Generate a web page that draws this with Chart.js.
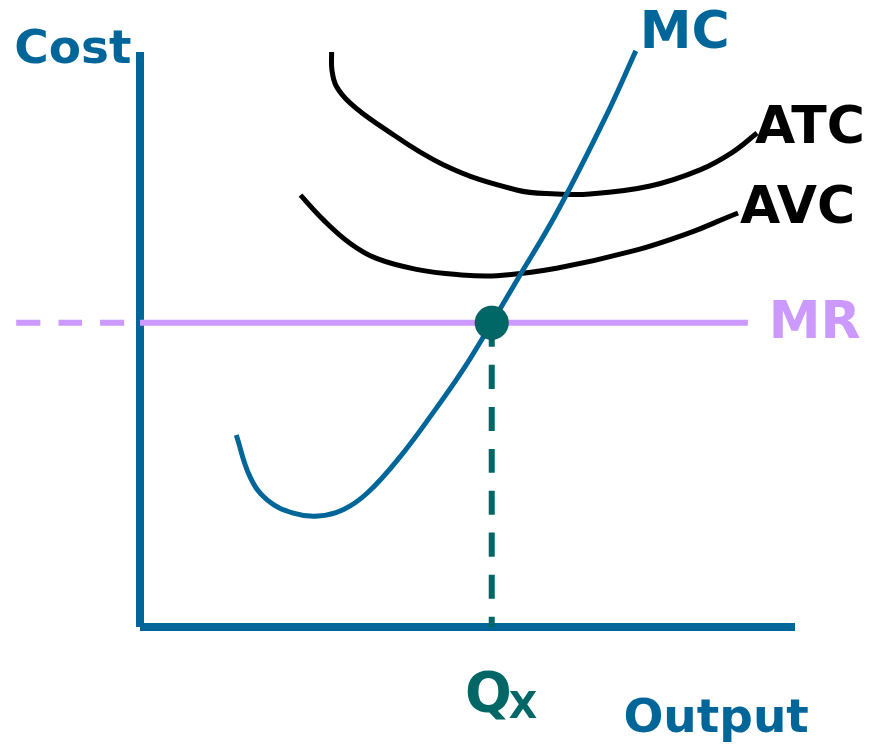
<!DOCTYPE html>
<html>
<head>
<meta charset="utf-8">
<script src="https://cdn.jsdelivr.net/npm/chart.js@4"></script>
<style>
  html, body { margin: 0; padding: 0; background: #fff; }
  canvas { display: block; }
</style>
</head>
<body>
<canvas id="chart" width="884" height="744"></canvas>
<script>
// Profit maximisation diagram (MC = MR) - Chart.js scatter with lines
// Units: Output 0..100 along the axis, Cost 0..100 up the axis

const mcOutput  = [14.7, 16.8, 19.4, 23.4, 27.2, 31.0, 34.7, 39.7, 44.7, 49.3, 53.7, 57.6, 63.6, 71.0, 75.7];
const mcCost    = [33.4, 26.1, 22.1, 19.8, 19.3, 20.4, 23.3, 29.6, 37.2, 44.7, 52.9, 60.4, 72.0, 88.5, 100.2];

const atcOutput = [29.25, 29.3, 30.0, 32.1, 36.1, 46.3, 57.5, 63.6, 68.7, 77.9, 85.5, 90.5, 94.2];
const atcCost   = [100.0, 96.9, 94.0, 91.1, 87.6, 80.4, 76.0, 75.3, 75.3, 76.7, 79.5, 82.6, 85.9];

const avcOutput = [24.5, 28.0, 32.1, 36.1, 42.2, 48.4, 54.5, 63.6, 75.3, 84.5, 88.1, 91.3];
const avcCost   = [75.1, 70.8, 66.7, 64.1, 62.2, 61.3, 61.1, 62.4, 65.4, 68.8, 70.5, 72.0];

const mrPrice = 52.9;        // MR level
const mrEnd = 92.8;          // where the solid MR line stops
const mrDashed = [-18.9, -2.4]; // dashed extension left of the cost axis
const qx = 53.7;             // profit maximising output (MC = MR)
const axisMax = 100;

const pts = (xs, ys) => xs.map((x, i) => ({ x: x, y: ys[i] }));

const BLUE = '#006699', TEAL = '#006666', LILAC = '#cc99ff';

const textLabels = {
    id: 'textLabels',
    afterDatasetsDraw(chart) {
        const c = chart.ctx, sx = chart.scales.x, sy = chart.scales.y;
        const put = (txt, x, y, size, color) => {
            c.font = 'bold ' + size + 'px "DejaVu Sans"';
            c.fillStyle = color;
            c.textAlign = 'left';
            c.textBaseline = 'alphabetic';
            c.fillText(txt, sx.getPixelForValue(x), sy.getPixelForValue(y));
            return c.measureText(txt).width;
        };
        c.save();
        put('Cost', -19.2, 98.1, 47, BLUE);
        put('MC', 76.3, 100.7, 52, BLUE);
        put('ATC', 93.9, 84.2, 52, '#000');
        put('AVC', 91.6, 70.3, 52, '#000');
        put('MR', 96.0, 50.3, 52, LILAC);
        const qw = put('Q', 49.6, -14.6, 55, TEAL);
        c.font = 'bold 37px "DejaVu Sans"';
        c.fillText('X', sx.getPixelForValue(49.6) + qw - 3, sy.getPixelForValue(-15.8));
        put('Output', 73.8, -18.26, 47, BLUE);
        c.restore();
    }
};

function line(data, color, width, order, dash) {
    return {
        data: data, showLine: true, borderColor: color, borderWidth: width,
        borderDash: dash || [], pointRadius: 0, tension: 0.4, fill: false,
        borderCapStyle: 'butt', order: order
    };
}

new Chart(document.getElementById('chart').getContext('2d'), {
    type: 'scatter',
    data: { datasets: [
        { data: [{ x: qx, y: mrPrice }], backgroundColor: TEAL, pointRadius: 17, order: 0 },
        line(pts(mcOutput, mcCost), BLUE, 5, 1),
        line(pts(atcOutput, atcCost), '#000', 5, 2),
        line(pts(avcOutput, avcCost), '#000', 5, 3),
        line([{ x: qx, y: mrPrice }, { x: qx, y: 0 }], TEAL, 6, 4, [24, 18]),
        line([{ x: 0, y: mrPrice }, { x: mrEnd, y: mrPrice }], LILAC, 6, 5),
        line([{ x: mrDashed[0], y: mrPrice }, { x: mrDashed[1], y: mrPrice }], LILAC, 6, 6, [24, 18]),
        line([{ x: 0, y: 0 }, { x: 0, y: axisMax }], BLUE, 8, 7),
        line([{ x: 0, y: 0 }, { x: axisMax, y: 0 }], BLUE, 8, 8)
    ] },
    options: {
        responsive: false, animation: false,
        layout: { padding: 0, autoPadding: false },
        plugins: { legend: { display: false }, tooltip: { enabled: false } },
        scales: {
            x: { type: 'linear', display: false, min: -21.374, max: 113.588 },
            y: { type: 'linear', display: false, min: -20.348, max: 109.043 }
        }
    },
    plugins: [textLabels]
});
</script>
</body>
</html>
